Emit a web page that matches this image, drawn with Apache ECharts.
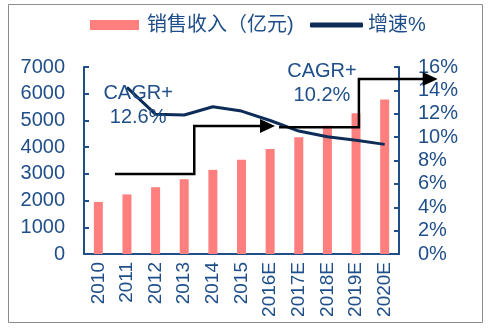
<!DOCTYPE html>
<html><head><meta charset="utf-8">
<script src="https://cdn.jsdelivr.net/npm/echarts@6/dist/echarts.min.js"></script>
<style>html,body{margin:0;padding:0;background:#fff}#c{width:492px;height:328px}</style>
</head><body><div id="c"></div>
<script>
var categories = ['2010','2011','2012','2013','2014','2015','2016E','2017E','2018E','2019E','2020E'];
var revenue = [1950, 2230, 2500, 2800, 3150, 3530, 3930, 4370, 4800, 5270, 5780];
var growth = [null, 14.26, 11.95, 11.89, 12.6, 12.23, 11.42, 10.52, 10.03, 9.73, 9.38];
var leftTicks = {min: 0, max: 7000, interval: 1000};
var rightTicks = {min: 0, max: 16, interval: 2};
var seriesNames = ['销售收入（亿元)', '增速%'];
var cagrLabels = ['CAGR+\n12.6%', 'CAGR+\n10.2%'];
// arrow paths in [category index, right-axis %]
var arrow1 = [[0.58, 6.84], [3.35, 6.84], [3.35, 10.95], [6.17, 10.95]];
var arrow2 = [[6.31, 10.85], [9.10, 10.85], [9.10, 14.97], [11.85, 14.97]];
var cagrAnchors = [[1.39, 12.75], [7.81, 14.57]];

var BLUE = '#1F4E89';
var FONT = "'Liberation Sans', Arial, 'Noto Sans CJK SC', sans-serif";
var chart = echarts.init(document.getElementById('c'), null, {renderer: 'canvas'});
var option = {
  backgroundColor: '#fff',
  animation: false,
  textStyle: {fontFamily: FONT},
  legend: [{
    data: [seriesNames[0]], left: 85, top: 10, itemWidth: 49, itemHeight: 10, itemGap: 10,
    icon: 'rect',
    textStyle: {color: BLUE, fontSize: 20, fontFamily: FONT, padding: [0, 0, 0, 3]}
  }, {
    data: [{name: seriesNames[1], icon: 'roundRect'}], left: 305, top: 10, itemWidth: 53, itemHeight: 5,
    textStyle: {color: BLUE, fontSize: 20, fontFamily: FONT, padding: [0, 0, 0, 0]}
  }],
  grid: {left: 84, right: 93, top: 67, bottom: 74, containLabel: false},
  xAxis: {
    type: 'category', data: categories,
    axisLine: {lineStyle: {color: BLUE, width: 2}},
    axisTick: {show: false},
    axisLabel: {rotate: 90, color: BLUE, fontSize: 19, margin: 8, fontFamily: FONT}
  },
  yAxis: [{
    type: 'value', min: leftTicks.min, max: leftTicks.max, interval: leftTicks.interval,
    axisLine: {show: true, lineStyle: {color: BLUE, width: 2}},
    axisTick: {show: true, inside: true, length: 5, lineStyle: {color: BLUE, width: 2}},
    splitLine: {show: false},
    axisLabel: {color: BLUE, fontSize: 20, margin: 19, fontFamily: FONT, formatter: function (v) { return String(v); }}
  }, {
    type: 'value', min: rightTicks.min, max: rightTicks.max, interval: rightTicks.interval,
    position: 'right',
    axisLine: {show: true, lineStyle: {color: BLUE, width: 2}},
    axisTick: {show: true, inside: true, length: 5, lineStyle: {color: BLUE, width: 2}},
    splitLine: {show: false},
    axisLabel: {color: BLUE, fontSize: 20, margin: 19, fontFamily: FONT, formatter: '{value}%'}
  }],
  series: [{
    name: seriesNames[0], type: 'bar', data: revenue, barWidth: 9,
    itemStyle: {color: '#FF7F7F'}, z: 2
  }, {
    name: seriesNames[1], type: 'line', yAxisIndex: 1, data: growth,
    showSymbol: false, symbol: 'none',
    lineStyle: {color: '#0D2C57', width: 3}, itemStyle: {color: '#0D2C57'}, z: 3
  }]
};
chart.setOption(option);

var x0 = chart.convertToPixel({xAxisIndex: 0}, 0);
var x1 = chart.convertToPixel({xAxisIndex: 0}, 1);
function px(pt) {
  var x = x0 + (x1 - x0) * pt[0];
  var y = chart.convertToPixel({yAxisIndex: 1}, pt[1]);
  return [x, y];
}
function arrowEls(path) {
  var pts = path.map(px);
  var last = pts[pts.length - 1];
  var headLen = 15, headHalf = 7;
  var shaft = pts.slice(0, pts.length - 1).concat([[last[0] - headLen + 2, last[1]]]);
  return [{
    type: 'polyline', shape: {points: shaft}, z: 20,
    style: {stroke: '#000', lineWidth: 2.5, fill: null}
  }, {
    type: 'polygon', z: 20,
    shape: {points: [[last[0], last[1]], [last[0] - headLen, last[1] - headHalf], [last[0] - headLen, last[1] + headHalf]]},
    style: {fill: '#000'}
  }];
}
var els = [{
  type: 'rect', shape: {x: 8.5, y: 4.5, width: 474, height: 318}, z: 0, silent: true,
  style: {fill: null, stroke: '#8c8c8c', lineWidth: 1}
}];
els = els.concat(arrowEls(arrow1), arrowEls(arrow2));
cagrAnchors.forEach(function (a, i) {
  var p = px(a);
  els.push({
    type: 'text', x: p[0], y: p[1], z: 21,
    style: {text: cagrLabels[i], fill: BLUE, font: '20px ' + FONT, align: 'center', verticalAlign: 'middle', lineHeight: 24}
  });
});
chart.setOption({graphic: {elements: els}});
</script></body></html>
